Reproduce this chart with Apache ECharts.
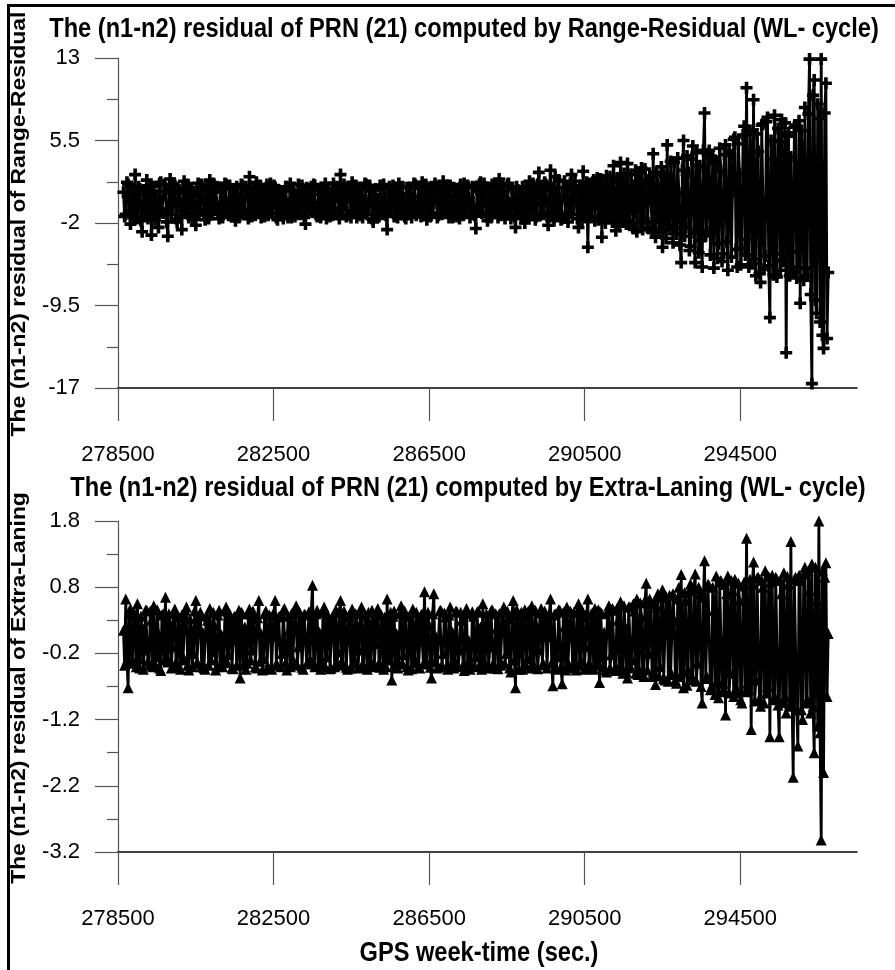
<!DOCTYPE html>
<html>
<head>
<meta charset="utf-8">
<script src="https://cdn.jsdelivr.net/npm/echarts@6/dist/echarts.min.js"></script>
<style>
html,body{margin:0;padding:0;background:#fff;}
#chart{width:895px;height:970px;}
</style>
</head>
<body>
<div id="chart"></div>
<script>
// ---- data ----
const tStart = 278640;   // first epoch (sec)
const tStep = 30;        // sampling step (sec)

const rangeResidual = [
  0.8,-1.4, -1.2,1.7, 1.5,-0.9, -2.1,1.2, 0.3,-1.5, 2.4,-0.7, -1.6,1.3, 1.1,-1.8, -2.8,1.0, 0.6,-1.1,
  1.9,-1.6, -0.9,1.4, -3.1,0.9, 1.3,-1.7, 0.2,-1.3, -2.4,1.6, 1.7,-1.0, -1.1,1.5, 0.9,-1.9, -3.2,1.1,
  2.0,-1.2, -0.5,1.6, 1.4,-1.6, -1.9,1.0, 0.7,-1.4, -2.6,1.2, 1.8,-1.1, -0.3,1.5, -1.5,0.8, 1.2,-1.6,
  0.4,-1.5, -2.2,1.1, 1.6,-1.3, -0.8,1.5, 1.0,-1.2, -1.7,1.3, 0.5,-1.6, 1.9,-0.9, -1.2,1.6, -0.2,1.2,
  1.3,-1.1, -1.6,1.2, 0.8,-1.5, -0.9,1.6, 1.5,-0.7, -1.3,1.4, 0.2,-1.4, 1.1,-1.2, -1.8,1.3, 0.6,-1.5,
  -0.4,1.5, 1.4,-1.2, -1.1,1.3, 0.9,-1.6, 2.2,-0.8, -1.4,1.1, 0.3,-1.3, 1.7,-1.0, -0.7,1.4, -1.5,1.0,
  1.0,-1.4, 0.1,1.5, -1.3,1.2, 1.6,-1.1, -0.6,1.4, 1.2,-1.5, -1.7,1.0, 0.5,-1.3, 0.9,-1.6, -1.0,1.3,
  1.3,-1.5, -0.3,1.6, -1.5,0.9, 1.0,-1.4, 0.4,-1.2, 1.5,-0.6, -1.2,1.4, 0.7,-1.5, -2.1,1.2, 1.1,-1.0,
  0.2,1.3, -0.9,1.5, 1.4,-1.2, -1.4,1.0, 0.6,-1.5, 1.2,-1.1, -0.8,1.6, -1.6,1.1, 0.9,-1.4, 0.3,-1.3,
  1.6,-1.0, -1.1,1.3, 0.4,-1.6, 2.4,-0.8, -0.6,1.5, 1.0,-1.4, -1.3,1.2, 0.8,-1.5, 1.7,-1.1, -0.9,1.4,
  -1.5,1.1, 1.2,-1.3, 0.5,-1.5, -1.0,1.6, 1.5,-1.2, -0.4,1.4, 0.9,-1.6, -1.9,1.0, 1.1,-1.2, 0.2,-1.4,
  1.4,-0.9, -1.2,1.5, 0.6,-1.3, -2.6,1.1, 1.3,-1.0, 0.1,1.4, -1.4,1.2, 1.0,-1.5, 1.6,-1.2, -0.8,1.3,
  0.3,-1.4, -1.6,1.2, 1.2,-1.0, 0.7,-1.5, -0.9,1.6, 1.5,-1.3, -1.1,1.3, 0.4,-1.4, 1.7,-0.9, -0.5,1.5,
  -1.7,1.2, 0.8,-1.4, 1.3,-1.1, -0.2,1.6, 1.0,-1.5, -1.3,1.0, 0.6,-1.2, 1.8,-1.0, -0.9,1.4, 0.2,-1.5,
  1.4,-1.0, -1.5,1.2, 0.5,-1.4, 1.1,-1.2, -1.6,1.5, 0.9,-1.3, 1.6,-1.1, -0.6,1.4, 0.3,-1.5, -1.2,1.3,
  1.2,-1.3, -2.5,1.0, -1.0,1.5, 1.7,-1.1, -0.4,1.6, 1.0,-1.4, -1.8,1.2, 0.7,-1.5, 1.5,-1.0, -0.8,1.4,
  0.4,-1.5, 2.0,-0.9, -1.3,1.4, 0.9,-1.6, -0.5,1.5, 1.6,-1.2, -1.6,1.1, 0.2,-1.4, -2.4,1.3, 1.0,-1.1,
  0.7,-1.6, 1.3,-1.2, -2.0,1.2, 0.5,-1.5, 1.8,-1.0, -0.7,1.6, 1.1,-1.7, -1.4,1.5, 2.6,-1.3, 0.0,1.4,
  -1.2,1.7, 1.5,-1.4, -2.2,1.0, 2.8,-1.3, 1.2,-1.8, 2.2,-1.1, -0.9,1.9, 0.3,-1.7, -1.6,1.2, 1.8,-1.5,
  1.0,-1.9, -1.1,1.6, 2.4,-1.2, -0.4,1.8, 0.8,-1.6, -2.4,1.3, 1.4,-1.8, 2.7,-1.0, -1.5,1.7, -4.2,1.2,
  1.6,-1.5, 0.3,1.9, -1.8,1.4, 2.1,-1.7, -0.6,2.0, -3.3,1.5, 1.2,-2.0, 2.3,-1.2, -1.0,2.2, 0.5,-1.9,
  3.2,-1.6, -2.7,2.1, 1.7,-2.3, 3.5,-1.4, -1.9,2.5, 0.2,-2.1, 3.4,-1.8, -2.2,2.4, 1.4,-2.5, 0.6,2.8,
  -2.8,1.8, 2.6,-2.0, 3.0,-2.6, -1.6,2.9, 1.9,-2.4, -2.5,2.2, 0.8,-2.7, 4.3,-1.9, -3.3,2.6, 1.5,-2.8,
  -1.8,3.1, -4.2,2.4, 2.2,-3.4, 5.1,-2.2, -2.6,3.6, 1.0,-3.8, 3.5,-2.5, -3.0,3.9, 0.7,-4.0, -5.6,2.8,
  5.5,-3.2, -2.4,4.1, 2.6,-4.5, -4.1,3.8, 5.0,-2.9, -5.6,4.4, 1.5,-4.7, 3.2,-3.6, -6.0,4.6, 8.0,-3.1,
  -2.8,4.3, 4.6,-4.9, -1.5,4.0, -6.1,3.7, 3.4,-5.2, -3.9,4.8, 2.7,-5.5, -4.8,4.2, 5.1,-3.7, -6.3,4.5,
  4.2,-5.1, 0.9,5.6, 5.8,-4.4, -6.0,5.2, 2.5,-5.8, -4.3,6.0, 6.8,-4.9, 10.3,-3.5, -6.0,6.4, 3.6,-5.7,
  9.2,-5.3, -6.8,6.1, 4.5,-6.6, -7.4,6.9, 7.0,-6.2, -5.0,7.2, 7.6,-5.9, -10.6,5.5, 3.8,-6.7, 7.8,-4.8,
  -6.9,6.6, 5.4,-6.3, 7.4,-5.5, -5.4,7.1, -13.8,5.9, 6.2,-6.8, 4.0,-6.0, -6.4,6.7, 6.9,-7.0, -4.6,7.3,
  -9.3,6.4, 3.5,-7.2, 8.5,-6.1, -6.8,7.9, 12.9,-8.5, -16.6,9.6, 11.0,-9.0, -10.2,8.8, 7.5,-11.0, 12.9,-12.2, -13.4,8.0, 10.7,-12.5, -6.5
];

const extraLaning = [
  0.15,-0.38, 0.62,-0.30, -0.72,0.40, 0.48,-0.35, -0.30,0.42, 0.35,-0.40, 0.55,-0.28, -0.42,0.36, 0.20,-0.44, -0.15,0.45,
  0.45,-0.32, -0.38,0.44, 0.30,-0.40, 0.52,-0.36, -0.25,0.46, 0.10,-0.42, -0.46,0.38, 0.40,-0.30, 0.65,-0.25, -0.33,0.40,
  0.25,-0.42, -0.10,0.40, 0.47,-0.33, -0.40,0.35, 0.05,-0.44, 0.38,-0.30, -0.28,0.45, 0.50,-0.38, -0.45,0.32, 0.18,-0.40,
  -0.20,0.44, 0.60,-0.34, -0.36,0.38, 0.42,-0.40, 0.12,-0.42, -0.44,0.36, 0.30,-0.38, 0.48,-0.30, -0.18,0.42, 0.22,-0.45,
  -0.40,0.38, 0.45,-0.36, 0.08,-0.40, -0.30,0.44, 0.50,-0.34, -0.22,0.40, 0.35,-0.42, -0.43,0.36, 0.28,-0.38, 0.00,0.45,
  -0.57,0.42, 0.40,-0.38, 0.20,-0.44, -0.35,0.40, 0.47,-0.30, -0.15,0.44, 0.32,-0.40, -0.42,0.34, 0.60,-0.32, 0.10,-0.45,
  -0.28,0.40, 0.44,-0.42, -0.40,0.38, 0.25,-0.44, 0.05,0.42, 0.60,-0.36, -0.38,0.35, 0.36,-0.40, -0.20,0.45, 0.48,-0.34,
  -0.45,0.36, 0.15,-0.40, 0.40,-0.35, -0.32,0.44, 0.52,-0.38, -0.10,0.42, 0.28,-0.41, -0.44,0.39, 0.38,-0.36, 0.02,0.43,
  -0.30,0.45, 0.83,-0.34, -0.40,0.40, 0.45,-0.38, 0.12,-0.44, -0.36,0.42, 0.50,-0.40, -0.25,0.38, 0.30,-0.43, -0.42,0.35,
  0.22,-0.40, 0.46,-0.36, -0.18,0.42, 0.60,-0.32, -0.38,0.44, 0.35,-0.41, -0.44,0.37, 0.08,-0.42, 0.47,-0.35, -0.30,0.40,
  0.25,-0.42, -0.15,0.40, 0.50,-0.36, -0.40,0.38, 0.18,-0.44, 0.42,-0.38, -0.33,0.45, 0.30,-0.40, -0.05,0.42, 0.48,-0.34,
  -0.41,0.38, 0.20,-0.44, 0.35,-0.40, 0.62,-0.30, -0.28,0.42, -0.60,0.36, 0.44,-0.38, 0.10,-0.42, -0.36,0.40, 0.52,-0.35,
  -0.22,0.44, 0.38,-0.40, -0.45,0.36, 0.15,-0.43, 0.47,-0.34, -0.30,0.42, 0.28,-0.40, -0.42,0.38, 0.40,-0.36, 0.73,-0.30,
  -0.35,0.42, 0.22,-0.41, -0.57,0.40, 0.70,-0.33, 0.05,-0.42, -0.40,0.44, 0.45,-0.38, -0.20,0.41, 0.35,-0.40, -0.44,0.38,
  0.50,-0.36, 0.12,-0.42, -0.32,0.44, 0.42,-0.40, -0.15,0.42, 0.30,-0.38, -0.46,0.40, 0.48,-0.34, 0.00,-0.44, -0.38,0.43,
  0.36,-0.40, -0.25,0.42, 0.44,-0.38, 0.20,-0.44, 0.55,-0.32, -0.40,0.40, 0.28,-0.42, -0.10,0.44, 0.46,-0.35, -0.42,0.40,
  0.18,-0.43, 0.40,-0.38, -0.35,0.42, 0.50,-0.36, -0.20,0.44, 0.32,-0.42, -0.48,0.40, 0.60,-0.30, -0.72,0.46, 0.38,-0.44,
  0.10,0.42, -0.44,0.40, 0.46,-0.38, -0.28,0.44, 0.35,-0.42, 0.52,-0.35, -0.40,0.45, 0.22,-0.43, -0.15,0.41, 0.48,-0.37,
  -0.36,0.44, 0.30,-0.42, 0.05,0.40, 0.62,-0.34, -0.69,0.38, 0.40,-0.44, -0.25,0.46, 0.45,-0.40, -0.66,0.42, 0.20,-0.45,
  0.50,-0.36, -0.38,0.44, 0.15,-0.42, 0.42,-0.40, -0.45,0.43, 0.55,-0.38, -0.30,0.45, 0.35,-0.44, -0.10,0.40, 0.62,-0.35,
  -0.42,0.40, 0.28,-0.44, 0.48,-0.38, -0.35,0.46, -0.64,0.42, 0.40,-0.40, 0.12,-0.45, -0.48,0.44, 0.52,-0.42, -0.22,0.48,
  0.45,-0.46, -0.40,0.48, 0.30,-0.45, 0.58,-0.40, -0.50,0.52, 0.20,-0.48, -0.57,0.50, 0.50,-0.42, -0.30,0.55, 0.44,-0.50,
  0.62,-0.52, -0.45,0.56, 0.35,-0.50, -0.55,0.60, 0.86,-0.45, -0.20,0.62, 0.55,-0.55, -0.48,0.58, -0.67,0.50, 0.70,-0.54,
  -0.40,0.64, 0.76,-0.58, -0.60,0.66, 0.45,-0.62, 0.68,-0.50, -0.52,0.70, 0.30,-0.60, -0.65,0.62, 0.80,-0.55, 0.99,-0.48,
  -0.72,0.72, 0.60,-0.68, -0.45,0.75, 0.85,-0.55, -0.60,0.78, 1.00,-0.62, -0.35,0.80, 0.70,-0.70, -0.95,0.65, 1.20,-0.58,
  -0.55,0.85, 0.82,-0.75, -0.70,0.80, 0.45,-0.82, 0.97,-0.60, -0.87,0.88, 0.90,-0.78, -0.65,0.84, -1.13,0.70, 0.97,-0.80,
  -0.50,0.90, 0.75,-0.85, 0.92,-0.72, -0.80,0.86, 0.60,-0.90, -0.95,0.82, 0.88,-0.78, 1.54,-0.65, -0.75,0.92, -1.35,0.85,
  1.18,-0.92, -0.60,0.94, 0.95,-0.88, -1.00,0.90, 0.80,-0.95, 1.05,-0.80, -0.70,0.96, -1.46,0.88, 0.98,-0.90, -0.85,0.95,
  0.92,-0.98, -1.46,0.90, 0.70,-0.94, 1.02,-0.85, -1.10,0.96, 0.85,-1.00, 1.49,-0.90, -2.07,0.92, 0.95,-1.05, -1.60,0.98,
  0.90,-1.05, -1.20,1.00, 1.10,-0.95, -0.90,1.05, 0.75,-1.10, 1.15,-1.00, -1.70,1.10, 0.60,-1.30, 1.80,-1.40, -3.02,1.05, -2.00,0.95, 1.17,-0.85, 0.10
];

const xMajorTicks = [278500, 282500, 286500, 290500, 294500];
const xMinorTicks = [280500, 284500, 288500, 292500, 296500];
const xRange = [278500, 297500];
const yTopRange = [-17, 13];      // ticks: -17, -9.5, -2, 5.5, 13
const yTopStep = 7.5;
const yBottomRange = [-3.2, 1.8]; // ticks: -3.2, -2.2, -1.2, -0.2, 0.8, 1.8
const yBottomStep = 1;

const titleTop = 'The (n1-n2) residual of PRN (21) computed by Range-Residual (WL- cycle)';
const titleBottom = 'The (n1-n2) residual of PRN (21) computed by Extra-Laning (WL- cycle)';
const yNameTop = 'The (n1-n2) residual of Range-Residual';
const yNameBottom = 'The (n1-n2) residual of Extra-Laning';
const xName = 'GPS week-time (sec.)';

// ---- chart ----
const FONT = '"Liberation Sans", Arial, Helvetica, sans-serif';

const pairsA = rangeResidual.map((v, i) => [tStart + i * tStep, v]);
const pairsB = extraLaning.map((v, i) => [tStart + i * tStep, v]);

const grids = [
  {left: 118, top: 58, width: 739, height: 330},
  {left: 118, top: 521, width: 739, height: 331}
];

function xMain(gi) {
  return {
    gridIndex: gi, type: 'value', position: 'bottom',
    min: xRange[0], max: xRange[1],
    axisLine: {show: true, onZero: false, lineStyle: {color: '#000', width: 1.5}},
    axisTick: {show: true, customValues: xMajorTicks, length: 33, lineStyle: {color: '#555', width: 1.2}},
    axisLabel: {show: true, customValues: xMajorTicks, margin: 56, fontSize: 22, fontFamily: FONT, color: '#000',
      formatter: v => String(v)},
    splitLine: {show: false}
  };
}
function xMinor(gi) {
  return {
    gridIndex: gi, type: 'value', position: 'bottom',
    min: xRange[0], max: xRange[1],
    axisLine: {show: false},
    axisTick: {show: true, customValues: xMinorTicks, length: 16, lineStyle: {color: '#555', width: 1.2}},
    axisLabel: {show: false},
    splitLine: {show: false}
  };
}
function yAx(gi, range, step) {
  return {
    gridIndex: gi, type: 'value', position: 'left',
    min: range[0], max: range[1], interval: step,
    axisLine: {show: true, onZero: false, lineStyle: {color: '#555', width: 1.2}},
    axisTick: {show: true, length: 23, lineStyle: {color: '#555', width: 1.2}},
    minorTick: {show: true, splitNumber: 2, length: 11, lineStyle: {color: '#555', width: 1.2}},
    axisLabel: {show: true, margin: 38, fontSize: 22, fontFamily: FONT, color: '#000',
      formatter: v => String(Math.round(v * 10) / 10)},
    splitLine: {show: false},
    minorSplitLine: {show: false}
  };
}

const plusPath = 'path://M3.5,0H6.5V3.5H10V6.5H6.5V10H3.5V6.5H0V3.5H3.5Z';

function boldText(text, x, y, size, sx, rot) {
  return {type: 'text', x: x, y: y, rotation: rot || 0, scaleX: sx, scaleY: 1, silent: true,
    style: {text: text, fontSize: size, fontWeight: 'bold', fontFamily: FONT, fill: '#000',
      align: 'center', verticalAlign: 'middle'}};
}

const option = {
  animation: false,
  backgroundColor: '#fff',
  grid: grids,
  xAxis: [xMain(0), xMinor(0), xMain(1), xMinor(1)],
  yAxis: [yAx(0, yTopRange, yTopStep), yAx(1, yBottomRange, yBottomStep)],
  series: [
    {
      type: 'line', xAxisIndex: 0, yAxisIndex: 0, data: pairsA,
      symbol: plusPath, symbolSize: 12, showAllSymbol: true,
      lineStyle: {color: '#000', width: 2.8}, itemStyle: {color: '#000'},
      silent: true, clip: true
    },
    {
      type: 'line', xAxisIndex: 2, yAxisIndex: 1, data: pairsB,
      symbol: 'triangle', symbolSize: 11, showAllSymbol: true,
      lineStyle: {color: '#000', width: 2.8}, itemStyle: {color: '#000'},
      silent: true, clip: true
    }
  ],
  graphic: [
    {type: 'rect', shape: {x: 8.5, y: 5.5, width: 1000, height: 1100},
      style: {fill: 'none', stroke: '#000', lineWidth: 3}, silent: true},
    boldText(titleTop, 464, 30, 27, 0.875),
    boldText(titleBottom, 468, 489, 27, 0.875),
    boldText(yNameTop, 19, 224, 21, 1.09, Math.PI / 2),
    boldText(yNameBottom, 19, 688, 21, 1.09, Math.PI / 2),
    boldText(xName, 479, 954, 27, 0.875)
  ]
};

const chart = echarts.init(document.getElementById('chart'), null, {renderer: 'canvas'});
chart.setOption(option);
</script>
</body>
</html>
